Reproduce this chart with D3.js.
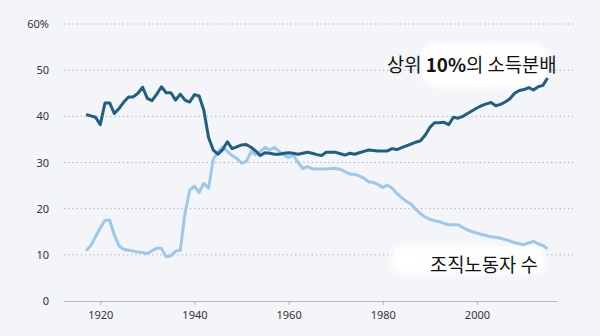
<!DOCTYPE html>
<html>
<head>
<meta charset="utf-8">
<script src="https://cdn.jsdelivr.net/npm/d3@7/dist/d3.min.js"></script>
<style>
  html, body { margin: 0; padding: 0; background: #f4f5f8; }
  svg { display: block; }
  .tick text { font-family: "Noto Sans", "Open Sans", sans-serif; font-size: 11px; fill: #333; }
  .label { font-family: "Noto Sans CJK KR", sans-serif; font-size: 18.8px; fill: #111; }
</style>
</head>
<body>
<svg id="chart" width="600" height="336"></svg>
<script>
// Years covered by both series
const years = d3.range(1917, 2016);

// Income share of the top 10% (%), one value per year
const topShare = [
  40.4, 40.1, 39.8, 38.2, 42.9, 42.9, 40.6, 41.7, 43.1, 44.2,
  44.2, 45.0, 46.3, 43.9, 43.4, 44.8, 46.4, 45.1, 45.1, 43.5,
  44.8, 43.5, 43.1, 44.7, 44.4, 41.3, 35.4, 32.7, 31.8, 32.8,
  34.5, 33.0, 33.4, 33.8, 33.9, 33.3, 32.5, 31.5, 32.1, 32.0,
  31.8, 31.8, 32.0, 32.1, 32.0, 31.8, 32.0, 32.2, 32.0, 31.7,
  31.5, 32.2, 32.2, 32.2, 31.9, 31.6, 32.0, 31.8, 32.1, 32.4,
  32.7, 32.6, 32.5, 32.5, 32.5, 33.0, 32.8, 33.2, 33.6, 34.0,
  34.4, 34.7, 35.9, 37.6, 38.6, 38.6, 38.7, 38.2, 39.8, 39.6,
  40.0, 40.6, 41.2, 41.8, 42.3, 42.7, 43.0, 42.3, 42.6, 43.1,
  43.8, 45.0, 45.6, 45.8, 46.2, 45.7, 46.4, 46.7, 48.3
];

// Union membership (%), one value per year
const unionShare = [
  10.9, 12.0, 13.9, 15.8, 17.5, 17.5, 14.3, 11.9, 11.2, 11.0,
  10.8, 10.6, 10.5, 10.3, 10.9, 11.4, 11.4, 9.6, 9.8, 10.8,
  11.0, 19.0, 24.0, 24.9, 23.5, 25.5, 24.4, 30.7, 32.3, 33.4,
  32.4, 31.5, 30.9, 29.9, 30.2, 32.3, 31.7, 32.3, 33.3, 32.7,
  33.3, 32.4, 31.6, 31.1, 31.6, 30.0, 28.7, 29.1, 28.6, 28.6,
  28.6, 28.6, 28.7, 28.7, 28.5, 28.0, 27.5, 27.4, 27.1, 26.6,
  25.8, 25.7, 25.2, 24.6, 25.1, 24.4, 23.3, 22.4, 21.6, 21.0,
  19.8, 18.9, 18.2, 17.7, 17.4, 17.2, 16.8, 16.5, 16.5, 16.5,
  15.9, 15.4, 15.0, 14.7, 14.4, 14.2, 13.9, 13.8, 13.6, 13.3,
  13.0, 12.6, 12.4, 12.2, 12.6, 12.9, 12.4, 12.0, 11.3
];

const xTicks = [1920, 1940, 1960, 1980, 2000];
const yTicks = [0, 10, 20, 30, 40, 50, 60];

const svg = d3.select("#chart");

const x = d3.scaleLinear().domain([1912.3, 2017]).range([64, 557]);
const y = d3.scaleLinear().domain([0, 60]).range([301, 24]);

// Dotted horizontal gridlines
svg.append("g")
  .selectAll("line")
  .data(yTicks.filter(d => d > 0))
  .join("line")
  .attr("x1", 64).attr("x2", 573)
  .attr("y1", d => y(d)).attr("y2", d => y(d))
  .attr("stroke", "#a9abae")
  .attr("stroke-width", 1)
  .attr("stroke-dasharray", "1.2,3");

// Y tick labels
svg.append("g")
  .selectAll("text")
  .data(yTicks)
  .join("text")
  .attr("x", 49)
  .attr("y", d => y(d) + 4)
  .attr("text-anchor", "end")
  .style("font-family", "'Noto Sans', 'Open Sans', sans-serif")
  .style("font-size", "11px")
  .style("fill", "#333")
  .text(d => d === 60 ? "60%" : d);

// X axis
const xAxis = svg.append("g")
  .attr("transform", `translate(0,${y(0)})`)
  .call(d3.axisBottom(x).tickValues(xTicks).tickFormat(d3.format("d")).tickSize(4).tickSizeOuter(0).tickPadding(6));
xAxis.select(".domain").attr("stroke", "#b5b7ba");
xAxis.selectAll(".tick line").attr("stroke", "#b5b7ba");

// Soft white patches behind the labels
const defs = svg.append("defs");
defs.append("filter").attr("id", "soft")
  .attr("x", "-20%").attr("y", "-50%").attr("width", "140%").attr("height", "200%")
  .append("feGaussianBlur").attr("stdDeviation", 2.5);

const patches = svg.append("g").attr("filter", "url(#soft)").attr("fill", "#ffffff");
patches.append("rect").attr("x", 422).attr("y", 43).attr("width", 125).attr("height", 44).attr("rx", 14);
patches.append("rect").attr("x", 391).attr("y", 246).attr("width", 154).attr("height", 28).attr("rx", 12);

// Lines
const line = d3.line().x((d, i) => x(years[i])).y(d => y(d)).curve(d3.curveLinear);

svg.append("path")
  .datum(unionShare)
  .attr("fill", "none")
  .attr("stroke", "#9dc8ec")
  .attr("stroke-width", 3)
  .attr("stroke-linejoin", "round")
  .attr("d", line);

svg.append("path")
  .datum(topShare)
  .attr("fill", "none")
  .attr("stroke", "#1f5f80")
  .attr("stroke-width", 3)
  .attr("stroke-linejoin", "round")
  .attr("d", line);

// Series labels
const topLabel = svg.append("text").attr("class", "label").attr("x", 387).attr("y", 72);
topLabel.append("tspan").text("상위 ");
topLabel.append("tspan").attr("font-weight", "bold").text("10%");
topLabel.append("tspan").text("의 소득분배");

svg.append("text").attr("class", "label").attr("x", 430).attr("y", 272).text("조직노동자 수");
</script>
</body>
</html>
